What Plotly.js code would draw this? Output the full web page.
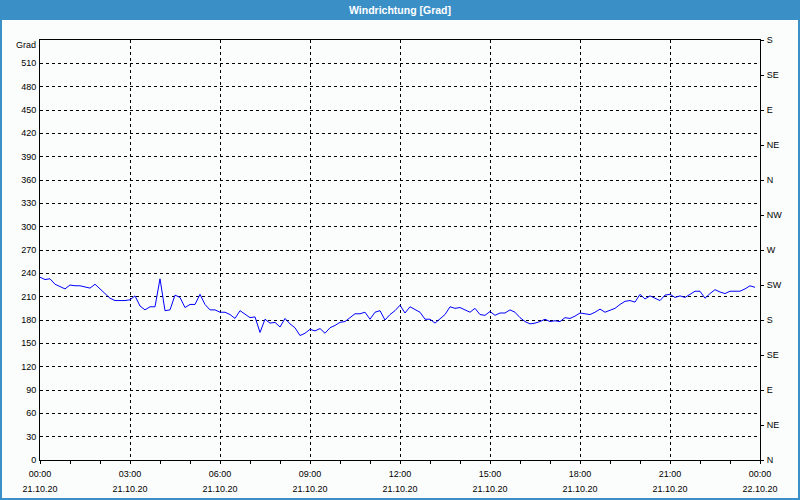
<!DOCTYPE html>
<html>
<head>
<meta charset="utf-8">
<script src="https://cdn.plot.ly/plotly-3.0.1.min.js"></script>
<style>
  html, body { margin: 0; padding: 0; background: #fbfdfc; }
  #chart { width: 800px; height: 500px; }
</style>
</head>
<body>
<div id="chart"></div>
<script>
// ---- data ----
const chartTitle = 'Windrichtung [Grad]';
const yUnit = 'Grad';
const startDate = '2020-10-21';
const stepMinutes = 10;
const windDirection = [
  235, 232, 233, 226, 223, 220, 225, 224, 224, 222, 221, 226,
  220, 215, 208, 205, 205, 205, 206, 211, 198, 193, 197, 197,
  233, 192, 193, 212, 209, 196, 200, 200, 213, 200, 193, 193,
  190, 190, 187, 182, 192, 188, 183, 184, 164, 181, 176, 177,
  171, 182, 175, 170, 160, 163, 168, 166, 169, 163, 170, 173,
  177, 178, 183, 188, 188, 190, 181, 190, 192, 180, 187, 192,
  199, 189, 197, 193, 190, 181, 181, 176, 181, 187, 197, 195,
  196, 193, 190, 195, 187, 186, 191, 186, 189, 189, 193, 190,
  183, 178, 175, 176, 178, 181, 178, 179, 178, 183, 182, 185,
  189, 188, 187, 190, 194, 190, 193, 195, 200, 204, 205, 203,
  213, 207, 211, 208, 205, 212, 213, 209, 211, 209, 213, 217,
  217, 208, 214, 219, 216, 214, 217, 217, 217, 220, 224, 222
];
const xTickVals = [
  '2020-10-21 00:00', '2020-10-21 03:00', '2020-10-21 06:00',
  '2020-10-21 09:00', '2020-10-21 12:00', '2020-10-21 15:00',
  '2020-10-21 18:00', '2020-10-21 21:00', '2020-10-22 00:00'
];
const xTimeLabels = ['00:00', '03:00', '06:00', '09:00', '12:00', '15:00', '18:00', '21:00', '00:00'];
const xDateLabels = ['21.10.20', '21.10.20', '21.10.20', '21.10.20', '21.10.20', '21.10.20', '21.10.20', '21.10.20', '22.10.20'];
const yTickVals = [0, 30, 60, 90, 120, 150, 180, 210, 240, 270, 300, 330, 360, 390, 420, 450, 480, 510];
const yTickLabels = yTickVals.map(String);
const compassVals = [0, 45, 90, 135, 180, 225, 270, 315, 360, 405, 450, 495, 540];
const compassLabels = ['N', 'NE', 'E', 'SE', 'S', 'SW', 'W', 'NW', 'N', 'NE', 'E', 'SE', 'S'];
const yRange = [0, 540];
const xRange = ['2020-10-21 00:00', '2020-10-22 00:00'];

// ---- timestamps ----
function pad(n) { return (n < 10 ? '0' : '') + n; }
const times = windDirection.map((_, i) => {
  const m = i * stepMinutes;
  return startDate + ' ' + pad(Math.floor(m / 60)) + ':' + pad(m % 60);
});

// ---- styling ----
const FONT = 'Liberation Sans, Arial, sans-serif';
const TXT = '#000000';
const BLUE = '#3b8fc7';
const BG = '#fbfdfc';
const GRIDDASH = '3px,3px';

const traces = [
  {
    x: times, y: windDirection, type: 'scatter', mode: 'lines',
    line: { color: '#0000ff', width: 1 },
    xaxis: 'x', yaxis: 'y', showlegend: false, hoverinfo: 'x+y'
  },
  {
    x: [times[0]], y: [null], type: 'scatter', mode: 'lines',
    xaxis: 'x2', yaxis: 'y2', showlegend: false, hoverinfo: 'skip'
  }
];

// paper coords for the whole figure area
const W = 800, H = 500, ML = 40, MR = 40, MT = 40, MB = 40;
const pw = W - ML - MR, ph = H - MT - MB;
const px0 = -ML / pw, px1 = 1 + MR / pw;
const pyTop = 1 + MT / ph, pyBot = -MB / ph;
const pyBar = 1 + (MT - 20) / ph;

const layout = {
  width: W, height: H,
  margin: { l: ML, r: MR, t: MT, b: MB, pad: 0 },
  paper_bgcolor: BG, plot_bgcolor: BG,
  font: { family: FONT, size: 9, color: TXT },
  showlegend: false,
  title: {
    text: '<b>' + chartTitle + '</b>',
    font: { family: FONT, size: 10.5, color: '#ffffff' },
    x: 0.5, xref: 'container', xanchor: 'center',
    y: 1 - 10 / H, yref: 'container', yanchor: 'middle'
  },
  xaxis: {
    type: 'date', range: xRange,
    tickmode: 'array', tickvals: xTickVals, ticktext: xTimeLabels,
    ticks: 'outside', ticklen: 3, tickcolor: '#000', tickwidth: 1,
    showgrid: true, gridcolor: '#000', gridwidth: 1, griddash: GRIDDASH,
    showline: true, linecolor: '#000', linewidth: 1, mirror: true,
    zeroline: false, fixedrange: true,
    tickfont: { family: FONT, size: 9, color: TXT },
    ticklabelstandoff: 2,
    minor: {
      tick0: '2020-10-21 00:00', dtick: 3600000,
      ticks: 'outside', ticklen: 3, tickcolor: '#000', tickwidth: 1, showgrid: false
    }
  },
  xaxis2: {
    type: 'date', range: xRange, overlaying: 'x', anchor: 'y', side: 'bottom',
    tickmode: 'array', tickvals: xTickVals, ticktext: xDateLabels,
    ticks: '', showgrid: false, showline: false, zeroline: false, fixedrange: true,
    tickfont: { family: FONT, size: 9, color: TXT },
    ticklabelstandoff: 22
  },
  yaxis: {
    range: yRange, tickmode: 'array', tickvals: yTickVals, ticktext: yTickLabels,
    ticks: '', showgrid: true, gridcolor: '#000', gridwidth: 1, griddash: GRIDDASH,
    showline: true, linecolor: '#000', linewidth: 1, mirror: false,
    zeroline: false, fixedrange: true,
    tickfont: { family: FONT, size: 9, color: TXT },
    ticklabelstandoff: 1
  },
  yaxis2: {
    range: yRange, overlaying: 'y', side: 'right', anchor: 'x',
    tickmode: 'array', tickvals: compassVals, ticktext: compassLabels,
    ticks: 'outside', ticklen: 3, tickcolor: '#000', tickwidth: 1,
    showgrid: false, showline: true, linecolor: '#000', linewidth: 1,
    zeroline: false, fixedrange: true,
    tickfont: { family: FONT, size: 9, color: TXT },
    ticklabelstandoff: 1
  },
  shapes: [
    { type: 'rect', xref: 'paper', yref: 'paper', x0: px0, x1: px1, y0: pyBar, y1: pyTop,
      fillcolor: BLUE, line: { width: 0 }, layer: 'below' },
    { type: 'rect', xref: 'paper', yref: 'paper', x0: px0 + 1 / pw, x1: px1 - 1 / pw,
      y0: pyBot + 1 / ph, y1: pyTop - 1 / ph,
      fillcolor: 'rgba(0,0,0,0)', line: { color: BLUE, width: 2 }, layer: 'above' }
  ],
  annotations: [
    { text: yUnit, xref: 'paper', yref: 'y', x: 0, y: yRange[1],
      xanchor: 'right', yanchor: 'middle', xshift: -2, yshift: -5, showarrow: false,
      font: { family: FONT, size: 9, color: TXT } }
  ]
};

Plotly.newPlot('chart', traces, layout, { displayModeBar: false, staticPlot: true });
</script>
</body>
</html>
